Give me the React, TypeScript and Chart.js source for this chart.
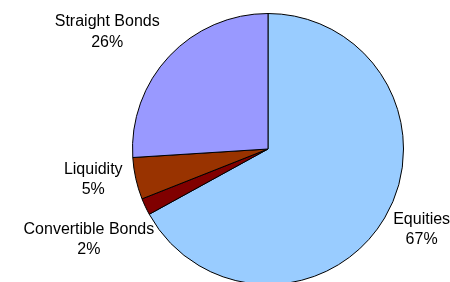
import React, { useEffect, useRef } from "react";
import { Chart, registerables } from "chart.js";

Chart.register(...registerables);

const categories = ["Equities", "Convertible Bonds", "Liquidity", "Straight Bonds"];
const values = [67, 2, 5, 26];
const percentLabels = ["67%", "2%", "5%", "26%"];
const colors = ["#99CCFF", "#800000", "#993300", "#9999FF"];

// label placement relative to the outer midpoint of each slice (first baseline)
const labelOffsets: [number, number][] = [
  [37, 6],
  [-56.5, 27],
  [-42.5, -4.7],
  [-62, -30],
];

const outsideLabels = {
  id: "outsideLabels",
  afterDatasetsDraw(chart: any) {
    const ctx = chart.ctx;
    const meta = chart.getDatasetMeta(0);
    ctx.save();
    ctx.font = "16px 'Liberation Sans', Arial, sans-serif";
    ctx.fillStyle = "#000000";
    ctx.textAlign = "center";
    ctx.textBaseline = "alphabetic";
    meta.data.forEach((arc: any, i: number) => {
      const p = arc.getProps(["x", "y", "startAngle", "endAngle", "outerRadius"], true);
      const mid = (p.startAngle + p.endAngle) / 2;
      const px = p.x + Math.cos(mid) * p.outerRadius;
      const py = p.y + Math.sin(mid) * p.outerRadius;
      const [dx, dy] = labelOffsets[i];
      ctx.fillText(categories[i], px + dx, py + dy);
      ctx.fillText(percentLabels[i], px + dx, py + dy + 20.5);
    });
    ctx.restore();
  },
};

export default function App() {
  const ref = useRef<HTMLCanvasElement | null>(null);
  useEffect(() => {
    if (!ref.current) return;
    const chart = new Chart(ref.current, {
      type: "pie",
      data: {
        labels: categories,
        datasets: [
          {
            data: values,
            backgroundColor: colors,
            borderColor: "#000000",
            borderWidth: 1,
          },
        ],
      },
      options: {
        responsive: false,
        animation: false,
        events: [],
        layout: { padding: { left: 132, right: 46, top: 13, bottom: 15 } },
        plugins: {
          legend: { display: false },
          tooltip: { enabled: false },
        },
      },
      plugins: [outsideLabels],
    });
    return () => chart.destroy();
  }, []);
  return (
    <div
      style={{
        position: "fixed",
        left: 0,
        top: 0,
        width: 450,
        height: 282,
        overflow: "hidden",
        background: "#ffffff",
      }}
    >
      <div style={{ position: "relative", width: 450, height: 300 }}>
        <canvas
          ref={ref}
          width={450}
          height={300}
          style={{ display: "block", width: 450, height: 300 }}
        />
      </div>
    </div>
  );
}
